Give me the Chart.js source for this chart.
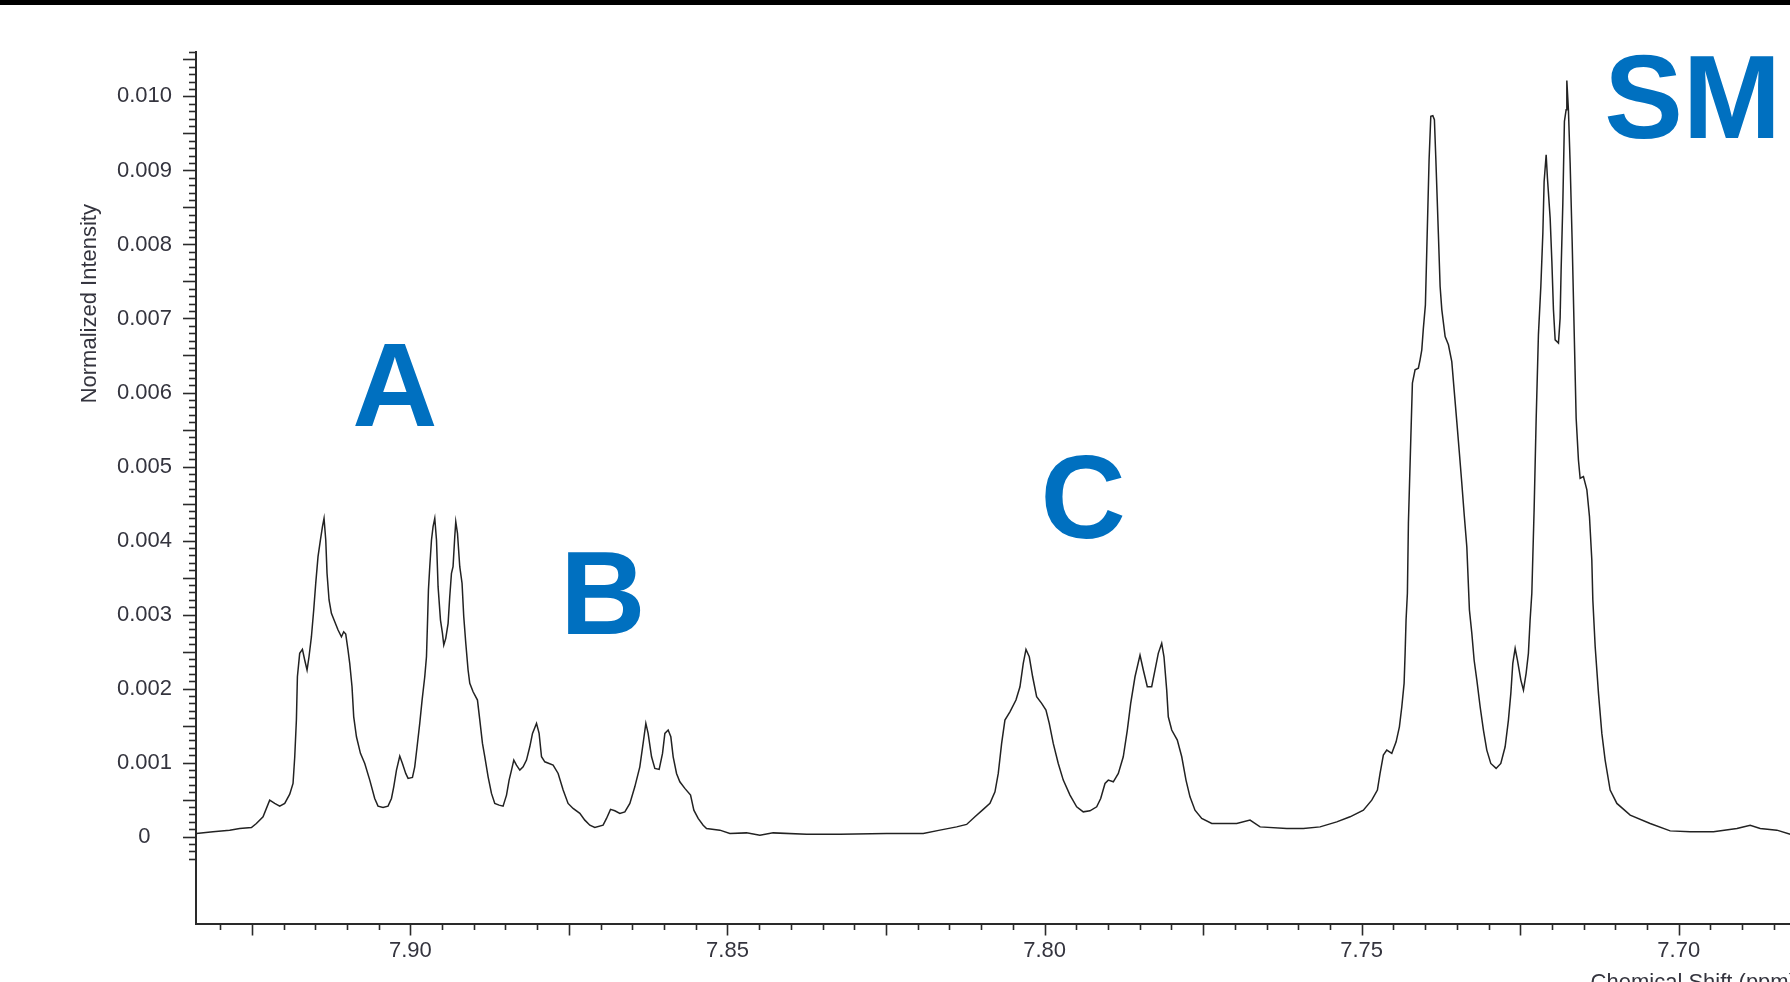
<!DOCTYPE html>
<html><head><meta charset="utf-8">
<script src="https://cdn.jsdelivr.net/npm/chart.js@4.4.1/dist/chart.umd.min.js"></script>
<style>
html,body{margin:0;padding:0;background:#fff;overflow:hidden;width:1790px;height:982px;}
#wrap{position:absolute;left:0;top:0;width:1810px;height:1000px;}
#bar{position:absolute;left:0;top:0;width:1790px;height:5px;background:#000;z-index:2;}
</style></head><body>
<div id="wrap"><canvas id="c" width="1810" height="1000"></canvas></div>
<div id="bar"></div>
<script>
// Chemical shift (ppm)
const ppm = [
7.93374,7.93112,7.92849,7.92691,7.92506,7.92428,7.92323,7.92218,7.92139,7.92060,
7.91981,7.91902,7.91850,7.91823,7.91797,7.91781,7.91745,7.91702,7.91666,7.91629,
7.91598,7.91560,7.91524,7.91492,7.91456,7.91418,7.91386,7.91361,7.91334,7.91314,
7.91282,7.91245,7.91192,7.91140,7.91087,7.91051,7.91019,7.90983,7.90956,7.90920,
7.90893,7.90850,7.90787,7.90719,7.90640,7.90562,7.90510,7.90431,7.90352,7.90298,
7.90262,7.90219,7.90167,7.90125,7.90073,7.90036,7.89967,7.89931,7.89894,7.89852,
7.89815,7.89773,7.89746,7.89730,7.89715,7.89694,7.89667,7.89642,7.89615,7.89588,
7.89563,7.89525,7.89494,7.89473,7.89442,7.89405,7.89379,7.89352,7.89327,7.89300,
7.89284,7.89257,7.89221,7.89185,7.89158,7.89126,7.89090,7.89063,7.89011,7.88942,
7.88905,7.88863,7.88826,7.88774,7.88721,7.88669,7.88601,7.88538,7.88484,7.88443,
7.88405,7.88369,7.88327,7.88274,7.88222,7.88169,7.88117,7.88074,7.88011,7.87970,
7.87932,7.87880,7.87749,7.87670,7.87591,7.87513,7.87434,7.87328,7.87249,7.87170,
7.87092,7.86961,7.86907,7.86844,7.86776,7.86697,7.86618,7.86539,7.86461,7.86382,
7.86330,7.86287,7.86251,7.86197,7.86145,7.86077,7.86024,7.85987,7.85935,7.85893,
7.85856,7.85803,7.85751,7.85672,7.85582,7.85530,7.85462,7.85383,7.85330,7.85120,
7.84962,7.84699,7.84489,7.84279,7.83752,7.83227,7.82490,7.81913,7.81650,7.81386,
7.81229,7.81098,7.80967,7.80861,7.80782,7.80730,7.80677,7.80625,7.80546,7.80451,
7.80388,7.80336,7.80293,7.80241,7.80188,7.80125,7.80046,7.79978,7.79926,7.79863,
7.79784,7.79705,7.79599,7.79494,7.79390,7.79284,7.79178,7.79115,7.79047,7.78995,
7.78916,7.78837,7.78759,7.78695,7.78642,7.78574,7.78495,7.78443,7.78380,7.78311,
7.78259,7.78207,7.78153,7.78117,7.78074,7.78049,7.77995,7.77907,7.77837,7.77770,
7.77707,7.77628,7.77522,7.77364,7.76970,7.76760,7.76602,7.76181,7.75919,7.75656,
7.75393,7.75183,7.74973,7.74841,7.74752,7.74710,7.74658,7.74604,7.74525,7.74457,
7.74405,7.74367,7.74331,7.74315,7.74300,7.74279,7.74263,7.74225,7.74200,7.74158,
7.74106,7.74079,7.74052,7.74027,7.73995,7.73973,7.73937,7.73910,7.73878,7.73853,
7.73831,7.73790,7.73763,7.73736,7.73684,7.73632,7.73579,7.73542,7.73500,7.73459,
7.73421,7.73385,7.73342,7.73301,7.73263,7.73227,7.73184,7.73132,7.73080,7.73027,
7.72964,7.72880,7.72806,7.72738,7.72686,7.72648,7.72617,7.72580,7.72544,7.72490,
7.72449,7.72407,7.72371,7.72344,7.72317,7.72281,7.72249,7.72213,7.72175,7.72143,
7.72123,7.72091,7.72071,7.72028,7.72001,7.71976,7.71949,7.71897,7.71871,7.71855,
7.71828,7.71803,7.71776,7.71765,7.71740,7.71713,7.71681,7.71645,7.71618,7.71582,
7.71555,7.71503,7.71449,7.71408,7.71371,7.71355,7.71318,7.71266,7.71213,7.71161,
7.71082,7.70976,7.70766,7.70451,7.70136,7.69820,7.69453,7.69083,7.68874,7.68716,
7.68453,7.68243,7.68100
];
// Normalized intensity
const intensity = [
0.000043,0.000065,0.000088,0.000111,0.000124,0.000178,0.000268,0.000493,0.000449,0.000412,
0.000449,0.000574,0.000719,0.001079,0.001575,0.002160,0.002476,0.002530,0.002386,0.002251,
0.002430,0.002701,0.003062,0.003423,0.003782,0.004008,0.004188,0.004301,0.004008,0.003558,
0.003197,0.003017,0.002904,0.002791,0.002701,0.002768,0.002737,0.002521,0.002341,0.002025,
0.001619,0.001349,0.001125,0.000989,0.000764,0.000516,0.000412,0.000395,0.000412,0.000516,
0.000673,0.000899,0.001088,0.000989,0.000854,0.000787,0.000800,0.000943,0.001214,0.001530,
0.001845,0.002160,0.002430,0.002882,0.003332,0.003647,0.004008,0.004188,0.004301,0.004008,
0.003377,0.002926,0.002747,0.002589,0.002679,0.002882,0.003241,0.003558,0.003647,0.004052,
0.004255,0.004098,0.003647,0.003423,0.002971,0.002612,0.002251,0.002071,0.001957,0.001845,
0.001575,0.001260,0.001079,0.000808,0.000584,0.000449,0.000426,0.000412,0.000561,0.000764,
0.000899,0.001034,0.000966,0.000899,0.000943,0.001034,0.001214,0.001395,0.001530,0.001395,
0.001079,0.001011,0.000966,0.000854,0.000629,0.000449,0.000381,0.000314,0.000223,0.000155,
0.000124,0.000155,0.000246,0.000368,0.000349,0.000314,0.000335,0.000449,0.000673,0.000943,
0.001260,0.001530,0.001395,0.001079,0.000922,0.000908,0.001125,0.001395,0.001440,0.001349,
0.001079,0.000854,0.000741,0.000652,0.000561,0.000358,0.000246,0.000155,0.000111,0.000088,
0.000043,0.000051,0.000020,0.000051,0.000034,0.000034,0.000043,0.000043,0.000088,0.000132,
0.000165,0.000268,0.000368,0.000449,0.000606,0.000854,0.001260,0.001575,0.001687,0.001845,
0.002025,0.002341,0.002530,0.002430,0.002160,0.001890,0.001801,0.001710,0.001530,0.001260,
0.000989,0.000764,0.000561,0.000403,0.000335,0.000349,0.000403,0.000516,0.000719,0.000764,
0.000741,0.000854,0.001079,0.001440,0.001801,0.002160,0.002453,0.002251,0.002025,0.002025,
0.002251,0.002476,0.002612,0.002430,0.001980,0.001619,0.001440,0.001304,0.001079,0.000764,
0.000538,0.000358,0.000246,0.000178,0.000178,0.000223,0.000132,0.000111,0.000111,0.000132,
0.000200,0.000268,0.000358,0.000493,0.000629,0.000854,0.001102,0.001169,0.001125,0.001281,
0.001484,0.001755,0.002071,0.002476,0.002926,0.003287,0.004234,0.005383,0.006126,0.006306,
0.006329,0.006441,0.006576,0.006870,0.007184,0.007928,0.009144,0.009730,0.009739,0.009685,
0.009167,0.008131,0.007432,0.007117,0.006756,0.006644,0.006418,0.006035,0.005607,0.005180,
0.004774,0.004369,0.003917,0.003062,0.002747,0.002386,0.002115,0.001755,0.001440,0.001169,
0.000989,0.000922,0.000989,0.001214,0.001575,0.001936,0.002341,0.002544,0.002386,0.002115,
0.001980,0.002206,0.002476,0.002926,0.003287,0.004413,0.005630,0.006779,0.007432,0.008154,
0.008851,0.009212,0.008897,0.008356,0.007770,0.007117,0.006711,0.006667,0.007005,0.007658,
0.008559,0.009662,0.009820,0.010216,0.009820,0.009100,0.008040,0.006667,0.005653,0.005089,
0.004842,0.004864,0.004684,0.004323,0.003738,0.003197,0.002566,0.001936,0.001395,0.001034,
0.000629,0.000449,0.000291,0.000178,0.000078,0.000065,0.000065,0.000111,0.000155,0.000111,
0.000088,0.000034,0.000030
];
// Axis ranges and tick labels
const xRange = [7.6812, 7.9338];
const yRange = [-0.00118, 0.0106];
const xTickLabels = [7.90, 7.85, 7.80, 7.75, 7.70];
const yTickLabels = [0, 0.001, 0.002, 0.003, 0.004, 0.005, 0.006, 0.007, 0.008, 0.009, 0.010];
const xMinorStep = 0.005;
const yMinorStep = 0.0001;
const yMinorRange = [-0.0003, 0.0106];
// Peak annotations
const peakNames = ['A', 'B', 'C', 'SM'];
const peakNamePpm = [7.90246, 7.86965, 7.79394, 7.69781];
const peakNameIntensity = [0.005549, 0.002737, 0.004035, 0.009442];
const yTitle = 'Normalized Intensity';
const yTitleAt = 0.0072;
const xTitle = 'Chemical Shift (ppm)';

const FONT = '"Liberation Sans", Arial, Helvetica, sans-serif';
const TEXT = '#34343e';
const AXIS = '#2a2a2a';
Chart.defaults.font.family = FONT;

const deco = {
  id: 'deco',
  afterDatasetsDraw(chart) {
    const {ctx, chartArea: a, scales: {x, y}} = chart;
    ctx.save();
    // peak names
    ctx.fillStyle = '#0070C0';
    ctx.font = 'bold 118px ' + FONT;
    ctx.textAlign = 'center';
    ctx.textBaseline = 'alphabetic';
    peakNames.forEach((t, i) => {
      ctx.fillText(t, x.getPixelForValue(peakNamePpm[i]), y.getPixelForValue(peakNameIntensity[i]));
    });
    ctx.restore();
  },
  afterDraw(chart) {
    const {ctx, chartArea: a, scales: {x, y}} = chart;
    ctx.save();
    ctx.strokeStyle = AXIS;
    ctx.lineWidth = 1.6;
    // y ticks
    const i0 = Math.round(yMinorRange[0] / yMinorStep), i1 = Math.round(yMinorRange[1] / yMinorStep);
    for (let i = i0; i <= i1; i++) {
      const py = Math.round(y.getPixelForValue(i * yMinorStep)) + 0.5;
      const len = (i % 5 === 0) ? 13 : 7;
      ctx.beginPath(); ctx.moveTo(a.left - len, py); ctx.lineTo(a.left, py); ctx.stroke();
    }
    // x ticks
    const j0 = Math.ceil(xRange[0] / xMinorStep - 1e-6), j1 = Math.floor(xRange[1] / xMinorStep + 1e-6);
    for (let j = j0; j <= j1; j++) {
      const px = Math.round(x.getPixelForValue(j * xMinorStep)) + 0.5;
      const len = (j % 5 === 0) ? 11.5 : 6;
      ctx.beginPath(); ctx.moveTo(px, a.bottom); ctx.lineTo(px, a.bottom + len); ctx.stroke();
    }
    // titles
    ctx.fillStyle = TEXT;
    ctx.font = '22px ' + FONT;
    ctx.save();
    ctx.translate(96, y.getPixelForValue(yTitleAt));
    ctx.rotate(-Math.PI / 2);
    ctx.textAlign = 'center';
    ctx.textBaseline = 'alphabetic';
    ctx.fillText(yTitle, 0, 0);
    ctx.restore();
    ctx.textAlign = 'right';
    ctx.textBaseline = 'alphabetic';
    ctx.fillText(xTitle, a.right - 2, a.bottom + 65);
    ctx.restore();
  }
};

new Chart(document.getElementById('c'), {
  type: 'line',
  data: {
    datasets: [{
      data: ppm.map((p, i) => ({x: p, y: intensity[i]})),
      borderColor: '#222',
      borderWidth: 1.5,
      pointRadius: 0,
      tension: 0,
      fill: false
    }]
  },
  options: {
    responsive: false,
    animation: false,
    parsing: true,
    layout: {padding: {top: 52, right: 12, left: 0, bottom: 0}},
    plugins: {legend: {display: false}, tooltip: {enabled: false}},
    scales: {
      x: {
        type: 'linear', reverse: true, min: xRange[0], max: xRange[1],
        grid: {display: false, drawTicks: false},
        border: {display: true, color: AXIS, width: 2},
        afterBuildTicks: s => { s.ticks = xTickLabels.map(v => ({value: v})); },
        afterFit: s => { s.height = 76; },
        ticks: {autoSkip: false, maxRotation: 0, minRotation: 0, padding: 14, color: TEXT,
          font: {size: 22}, callback: v => Number(v).toFixed(2)}
      },
      y: {
        type: 'linear', min: yRange[0], max: yRange[1],
        grid: {display: false, drawTicks: false},
        border: {display: true, color: AXIS, width: 2},
        afterBuildTicks: s => { s.ticks = yTickLabels.map(v => ({value: v})); },
        afterFit: s => { s.width = 196; },
        ticks: {crossAlign: 'center', padding: 24, color: TEXT, font: {size: 22},
          callback: v => (Number(v) === 0 ? '0' : Number(v).toFixed(3))}
      }
    }
  },
  plugins: [deco]
});
</script>
</body></html>
